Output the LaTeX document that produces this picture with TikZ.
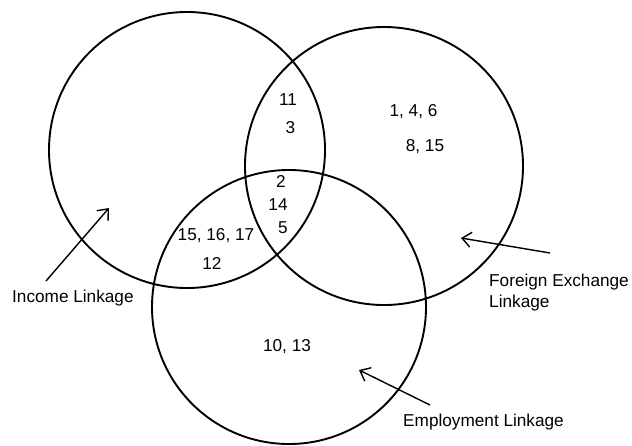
\documentclass[tikz,border=0pt]{standalone}
\usepackage{fontspec}
\setmainfont{Liberation Sans}
\usetikzlibrary{arrows.meta}
\begin{document}
\begin{tikzpicture}[x=1pt,y=-1pt,
  setc/.style={circle, draw, line width=1.9pt, inner sep=0pt},
  lbl/.style={font=\fontsize{17.2}{21}\selectfont, inner sep=0pt, anchor=base},
  lblw/.style={lbl, anchor=base west, align=left},
  arr/.style={line width=1.4pt, -{Straight Barb[length=9pt,width=15pt,line width=1.4pt]}}
]
\useasboundingbox (0,0) rectangle (632,445);
% circles
\node[setc, minimum size=276pt] (income) at (187,150) {};
\node[setc, minimum size=278pt] (foreign) at (384,166) {};
\node[setc, minimum size=274pt] (employ) at (289,307) {};
% region numbers
\node[lbl] (n11) at (288,105) {11};
\node[lbl] (n3) at (290.5,133.5) {3};
\node[lbl] (n146) at (413.5,116) {1, 4, 6};
\node[lbl] (n815) at (425,151) {8, 15};
\node[lbl] (n2) at (281,187) {2};
\node[lbl] (n14) at (278,210.5) {14};
\node[lbl] (n5) at (283,233) {5};
\node[lbl] (n151617) at (216,240.5) {15, 16, 17};
\node[lbl] (n12) at (212,269) {12};
\node[lbl] (n1013) at (287,351) {10, 13};
% labels
\node[lblw] (linc) at (12,302) {Income Linkage};
\node[lblw] (lfor) at (489,307) {Foreign Exchange\\Linkage};
\node[lblw] (lemp) at (403,426) {Employment Linkage};
% arrows
\coordinate (incT) at (46,281);
\coordinate (incH) at (109,208);
\coordinate (forT) at (550,253);
\coordinate (forH) at (461,238);
\coordinate (empT) at (430,405);
\coordinate (empH) at (359,370);
\draw[arr] (incT) -- (incH);
\draw[arr] (forT) -- (forH);
\draw[arr] (empT) -- (empH);
\end{tikzpicture}
\end{document}
